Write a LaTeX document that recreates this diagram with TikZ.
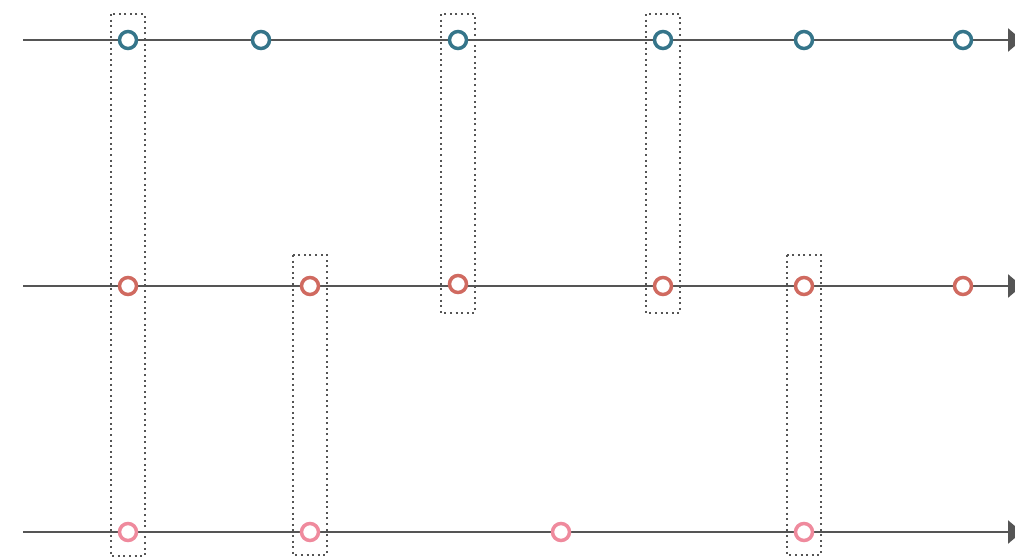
\documentclass[tikz,border=0pt]{standalone}
\usepackage{xcolor}
\definecolor{evblue}{HTML}{35758A}
\definecolor{evred}{HTML}{D06A60}
\definecolor{evpink}{HTML}{EF8A9D}
\definecolor{axisgray}{HTML}{555555}
\usepackage{tikz}
\usetikzlibrary{arrows.meta,calc}
\tikzset{
  ev/.style   ={circle, draw, fill=white, line width=3.5pt, minimum size=17pt, inner sep=0pt},
  evb/.style  ={ev, draw=evblue},
  evr/.style  ={ev, draw=evred},
  evp/.style  ={ev, draw=evpink},
  tline/.style={draw=axisgray, line width=2.5pt, -{Triangle[length=14pt,width=23pt]}},
  sync/.style ={draw=axisgray, line width=2pt, dash pattern=on 2pt off 3.6pt},
}

\begin{document}
\begin{tikzpicture}[x=1pt,y=-1pt]
  \useasboundingbox (0,0) rectangle (1015,557);
  % time lines
  \coordinate (s1) at (23,40);  \coordinate (e1) at (1022,40);
  \coordinate (s2) at (23,286); \coordinate (e2) at (1022,286);
  \coordinate (s3) at (23,532); \coordinate (e3) at (1022,532);
  \draw[tline] (s1) -- (e1);
  \draw[tline] (s2) -- (e2);
  \draw[tline] (s3) -- (e3);
  % top process
  \node[evb] (t1) at (128,40) {};
  \node[evb] (t2) at (261,40) {};
  \node[evb] (t3) at (458,40) {};
  \node[evb] (t4) at (663,40) {};
  \node[evb] (t5) at (804,40) {};
  \node[evb] (t6) at (963,40) {};
  % middle process
  \node[evr] (m1) at (128,286) {};
  \node[evr] (m2) at (310,286) {};
  \node[evr] (m3) at (458,284) {};
  \node[evr] (m4) at (663,286) {};
  \node[evr] (m5) at (804,286) {};
  \node[evr] (m6) at (963,286) {};
  % bottom process
  \node[evp] (b1) at (128,532) {};
  \node[evp] (b2) at (310,532) {};
  \node[evp] (b3) at (561,532) {};
  \node[evp] (b4) at (804,532) {};
  % synchronised events
  \draw[sync] ($(t1.center)+(-17,-26)$) rectangle ($(b1.center)+(17,24)$);
  \draw[sync] ($(t3.center)+(-17,-26)$) rectangle ($(m3.center)+(17,29)$);
  \draw[sync] ($(t4.center)+(-17,-26)$) rectangle ($(m4.center)+(17,27)$);
  \draw[sync] ($(m2.center)+(-17,-31)$) rectangle ($(b2.center)+(17,23)$);
  \draw[sync] ($(m5.center)+(-17,-31)$) rectangle ($(b4.center)+(17,23)$);
\end{tikzpicture}
\end{document}
